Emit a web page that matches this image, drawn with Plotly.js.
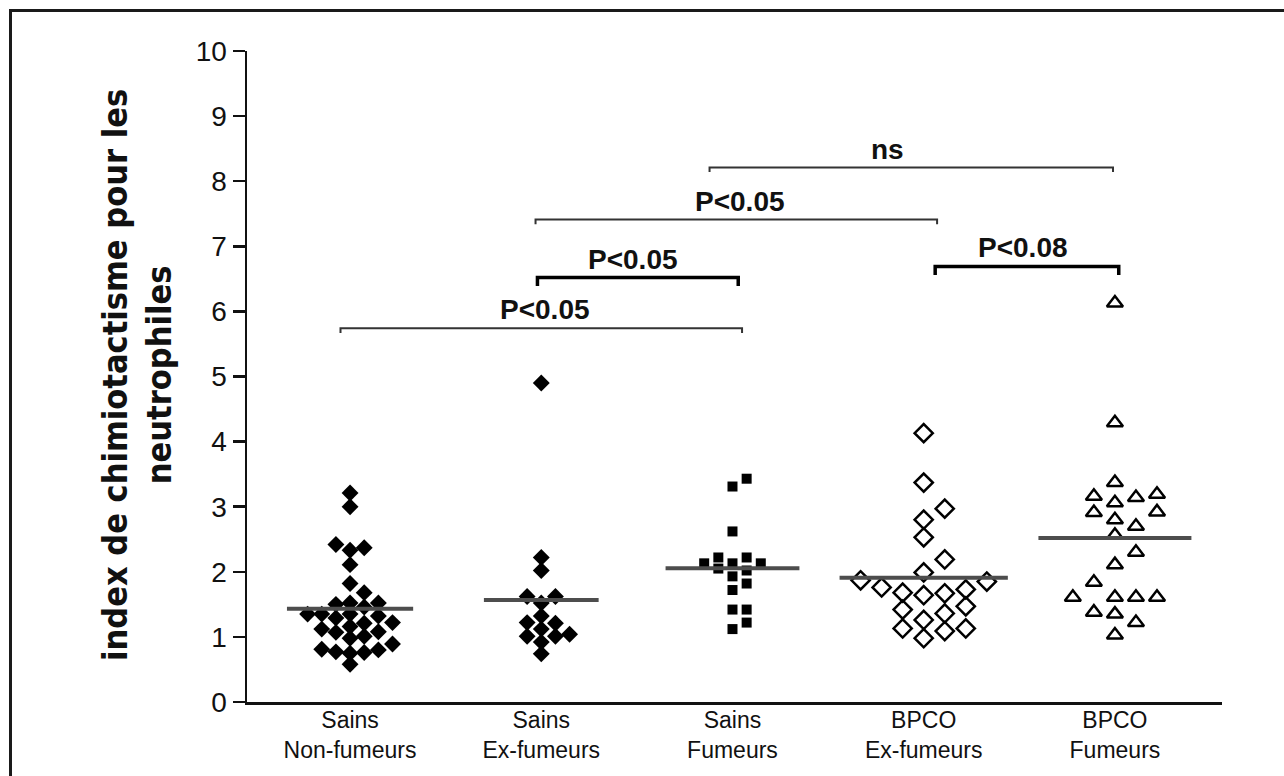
<!DOCTYPE html>
<html>
<head>
<meta charset="utf-8">
<script src="https://cdn.plot.ly/plotly-3.0.1.min.js"></script>
<style>
  html, body { margin: 0; padding: 0; background: #fff; overflow: hidden; }
  #frame { position: absolute; left: 9px; top: 9px; width: 1400px; height: 900px; border: 3px solid #1a1a1a; pointer-events: none; }
  #chart { position: absolute; left: 0; top: 0; width: 1284px; height: 776px; }
</style>
</head>
<body>
<div id="chart"></div>
<div id="frame"></div>
<script>
// ---- Data ----
const groupLine1 = ['Sains', 'Sains', 'Sains', 'BPCO', 'BPCO'];
const groupLine2 = ['Non-fumeurs', 'Ex-fumeurs', 'Fumeurs', 'Ex-fumeurs', 'Fumeurs'];

const sainsNonFumeurs = [3.21, 3.00, 2.33, 2.37, 2.42, 2.11, 1.82, 1.68, 1.52, 1.50, 1.52, 1.46,
  1.29, 1.35, 1.35, 1.32, 1.35, 1.21, 1.16, 1.22, 1.12, 1.07, 1.08, 1.01, 0.98, 0.89,
  0.80, 0.77, 0.81, 0.75, 0.76, 0.58];
const sainsExFumeurs = [4.90, 2.22, 2.02, 1.62, 1.62, 1.52, 1.32, 1.22, 1.12, 1.21, 1.01, 1.01,
  1.04, 0.92, 0.74];
const sainsFumeurs = [3.43, 3.31, 2.62, 2.22, 2.13, 2.05, 2.02, 2.13, 2.13, 2.22, 1.93, 1.82,
  1.72, 1.42, 1.42, 1.22, 1.12];
const bpcoExFumeurs = [4.13, 3.37, 2.97, 2.80, 2.53, 2.19, 1.99, 1.85, 1.87, 1.73, 1.76, 1.68,
  1.67, 1.64, 1.42, 1.47, 1.36, 1.26, 1.13, 1.09, 1.13, 0.98];
const bpcoFumeurs = [6.13, 4.29, 3.37, 3.19, 3.14, 3.06, 3.16, 2.91, 2.92, 2.70, 2.80, 2.56,
  2.30, 2.11, 1.84, 1.61, 1.61, 1.61, 1.61, 1.38, 1.35, 1.22, 1.03];

const yTickValues = [0, 1, 2, 3, 4, 5, 6, 7, 8, 9, 10];

// significance brackets
const bracketFrom  = [-0.05, 0.98, 0.97, 1.88, 3.06];
const bracketTo    = [2.05, 2.03, 3.07, 3.99, 4.02];
const bracketLevel = [5.74, 6.52, 7.41, 8.21, 6.69];
const bracketLabel = ['P<0.05', 'P<0.05', 'P<0.05', 'ns', 'P<0.08'];
const bracketLabelAt = [1.02, 1.48, 2.04, 2.81, 3.52];
const bracketBold  = [false, true, false, false, true];

// ---- Styles ----
const groups = [sainsNonFumeurs, sainsExFumeurs, sainsFumeurs, bpcoExFumeurs, bpcoFumeurs];
const styles = [
  {symbol: 'diamond', size: 13, slot: 0.074, gap: 11, half: 0.33},
  {symbol: 'diamond', size: 13, slot: 0.074, gap: 11, half: 0.30},
  {symbol: 'square', size: 10, slot: 0.074, gap: 11, half: 0.35},
  {symbol: 'diamond-open', size: 14, slot: 0.11, gap: 15, half: 0.44},
  {symbol: 'triangle-up-open', size: 14, slot: 0.11, gap: 15, half: 0.40}
];
const pxPerY = 65.1;

function swarm(vals, st, center) {
  const idx = vals.map((v, i) => i).sort((a, b) => vals[a] - vals[b]);
  const placed = [];
  const xs = new Array(vals.length);
  idx.forEach(i => {
    const v = vals[i];
    for (let k = 0; k < 20; k++) {
      const s = k === 0 ? 0 : (k % 2 === 1 ? (k + 1) / 2 : -k / 2);
      const hit = placed.some(p => p.s === s && Math.abs(p.v - v) * pxPerY < st.gap);
      if (!hit) { placed.push({s, v}); xs[i] = center + s * st.slot; break; }
    }
  });
  return xs;
}

const traces = [];
groups.forEach((vals, g) => {
  const st = styles[g];
  const open = st.symbol.indexOf('open') >= 0;
  traces.push({
    type: 'scatter', mode: 'markers',
    x: swarm(vals, st, g), y: vals,
    marker: {symbol: st.symbol, size: st.size, color: '#000',
      line: {color: '#000', width: open ? 2.5 : 0}},
    hoverinfo: 'y', showlegend: false
  });
});
groups.forEach((vals, g) => {
  const mean = vals.reduce((a, b) => a + b, 0) / vals.length;
  traces.push({
    type: 'scatter', mode: 'lines',
    x: [g - styles[g].half, g + styles[g].half], y: [mean, mean],
    line: {color: '#4d4d4d', width: 4}, hoverinfo: 'skip', showlegend: false
  });
});

const annotations = [];
bracketFrom.forEach((x0, b) => {
  const x1 = bracketTo[b], y = bracketLevel[b];
  const bold = bracketBold[b];
  const d = bold ? 0.13 : 0.07;
  traces.push({
    type: 'scatter', mode: 'lines',
    x: [x0, x0, x1, x1], y: [y - d, y, y, y - d],
    line: {color: bold ? '#000' : '#333', width: bold ? 3.5 : 2},
    hoverinfo: 'skip', showlegend: false
  });
  annotations.push({
    x: bracketLabelAt[b], y: y, xref: 'x', yref: 'y',
    text: '<b>' + bracketLabel[b].replace('<', '&lt;') + '</b>',
    showarrow: false, xanchor: 'center', yanchor: 'bottom', yshift: 1,
    font: {family: 'Liberation Sans, Arial, sans-serif', size: 28, color: '#111'}
  });
});

annotations.push({
  xref: 'paper', yref: 'paper', x: -0.113, y: 0.502,
  text: '<b>index de chimiotactisme pour les<br>neutrophiles</b>',
  textangle: -90, showarrow: false, xanchor: 'center', yanchor: 'middle',
  font: {family: 'DejaVu Sans Condensed, Liberation Sans, sans-serif', size: 34, color: '#111'}
});

const layout = {
  width: 1284, height: 776,
  margin: {l: 247, r: 62, t: 51, b: 74},
  paper_bgcolor: '#fff', plot_bgcolor: '#fff',
  showlegend: false,
  xaxis: {
    range: [-0.539, 4.56], showgrid: false, zeroline: false,
    showline: true, linecolor: '#111', linewidth: 2.5,
    ticks: '', tickvals: [0, 1, 2, 3, 4], ticklabelstandoff: -4,
    ticktext: groupLine1.map((t, i) => t + '<br>' + groupLine2[i]),
    tickfont: {family: 'Liberation Sans, Arial, sans-serif', size: 23, color: '#111'}
  },
  yaxis: {
    range: [0, 10], showgrid: false, zeroline: false,
    showline: true, linecolor: '#111', linewidth: 2.5,
    ticks: 'outside', ticklen: 12, tickwidth: 2.5, tickcolor: '#111',
    tickvals: yTickValues,
    tickfont: {family: 'Liberation Sans, Arial, sans-serif', size: 28, color: '#111'}
  },
  annotations: annotations
};

Plotly.newPlot('chart', traces, layout, {staticPlot: true, displayModeBar: false});
</script>
</body>
</html>
